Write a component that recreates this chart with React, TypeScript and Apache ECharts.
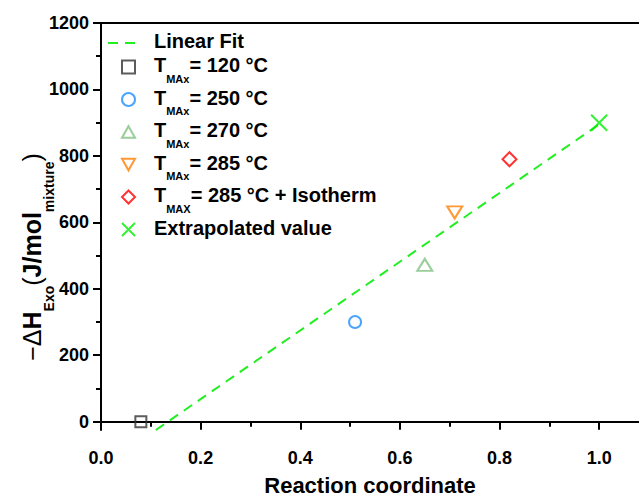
import React, { useEffect, useRef } from 'react';
import * as echarts from 'echarts';

// ---- data ----
const seriesNames = ['T120', 'T250', 'T270', 'T285', 'T285iso', 'Extrapolated value'];
const reactionCoord = [0.08, 0.51, 0.65, 0.71, 0.82, 1.0];
const deltaH = [0, 300, 472, 630, 790, 900];
const fitX = [0.11, 1.0];
const fitY = [-25, 895];
const xMajorTicks = [0, 0.2, 0.4, 0.6, 0.8, 1.0];
const xMinorTicks = [0.1, 0.3, 0.5, 0.7, 0.9];
const yMajorTicks = [0, 200, 400, 600, 800, 1000, 1200];
const yMinorTicks = [100, 300, 500, 700, 900, 1100];

const legendRich: Record<string, string> = {
  'Linear Fit': '{g|Linear Fit}',
  T120: '{f|T}{s|MAx}{b|= 120 °C}',
  T250: '{f|T}{s|MAx}{b|= 250 °C}',
  T270: '{f|T}{s|MAx}{b|= 270 °C}',
  T285: '{f|T}{s|MAx}{b|= 285 °C}',
  T285iso: '{f|T}{s|MAX}{b|= 285 °C + Isotherm}',
  'Extrapolated value': '{f|Extrapolated value}{s| }',
};
const yTitle = '{n|−Δ}{a|H}{s|Exo}{n|(}{a|J/mol}{s|mixture}{n|)}';

const markerStyles = [
  { symbol: 'rect', size: 11, color: '#333333' },
  { symbol: 'circle', size: 12, color: '#1e8fff' },
  { symbol: 'path://M5,0L10,9L0,9Z', size: [15, 12], color: '#80c080' },
  { symbol: 'path://M0,0L10,0L5,9Z', size: [15, 12], color: '#ff8000' },
  { symbol: 'diamond', size: 14, color: '#ff0000' },
  { symbol: 'path://M0,0L10,10M10,0L0,10', size: 16, color: '#00ee00' },
];

const FONT = '"Liberation Sans", Arial, Helvetica, sans-serif';

export default function App() {
  const ref = useRef<HTMLDivElement>(null);
  useEffect(() => {
    if (!ref.current) return;
    const chart = echarts.init(ref.current, null, { renderer: 'svg' });
    const base = { fontSize: 20, fontWeight: 'bold', fontFamily: FONT, color: '#000', lineHeight: 24, verticalAlign: 'top' };
    const legendTextRich = {
      b: { ...base },
      f: { ...base, padding: [0, 0, 0, 14] },
      g: { ...base, padding: [0, 0, 0, 13] },
      s: { fontSize: 11, fontWeight: 'bold', fontFamily: FONT, color: '#000', lineHeight: 11, verticalAlign: 'top', padding: [18, 0, 0, 0] },
    };
    const axisLineStyle = { color: '#000', width: 2 };
    const scatterSeries = seriesNames.map((name, i) => ({
      type: 'scatter',
      name,
      data: [[reactionCoord[i], deltaH[i]]],
      symbol: markerStyles[i].symbol,
      symbolSize: markerStyles[i].size,
      itemStyle: { color: 'rgba(0,0,0,0)', borderColor: markerStyles[i].color, borderWidth: 2 },
      z: 3,
    }));
    const option: any = {
      animation: false,
      backgroundColor: '#fff',
      textStyle: { fontFamily: FONT },
      grid: { left: 101, right: 0, top: 23, bottom: 67, containLabel: false },
      graphic: [
        {
          type: 'text',
          x: 34,
          y: 257,
          rotation: Math.PI / 2,
          style: {
            text: yTitle,
            align: 'center',
            verticalAlign: 'middle',
            rich: {
              n: { fontSize: 25, fontWeight: 'normal', fontFamily: FONT, fill: '#000', lineHeight: 29, verticalAlign: 'top' },
              a: { fontSize: 25, fontWeight: 'bold', fontFamily: FONT, fill: '#000', lineHeight: 29, verticalAlign: 'top' },
              s: { fontSize: 14, fontWeight: 'bold', fontFamily: FONT, fill: '#000', lineHeight: 14, verticalAlign: 'top', padding: [22, 0, 0, 0] },
            },
          },
        },
      ],
      legend: [
        {
          data: ['Linear Fit'],
          orient: 'vertical',
          left: 107,
          top: 31,
          padding: 0,
          itemWidth: 28,
          itemHeight: 12,
          itemStyle: { color: 'rgba(0,0,0,0)', borderWidth: 0, opacity: 0 },
          lineStyle: { color: '#22ee22', width: 2, type: [10, 7] },
          formatter: (n: string) => legendRich[n],
          textStyle: { rich: legendTextRich },
        },
        {
          data: seriesNames,
          orient: 'vertical',
          left: 121,
          top: 55,
          padding: 0,
          itemGap: 3.5,
          itemWidth: 13,
          itemHeight: 13,
          itemStyle: { borderWidth: 2 },
          formatter: (n: string) => legendRich[n],
          textStyle: { rich: legendTextRich },
        },
      ],
      xAxis: [
        {
          type: 'value',
          position: 'bottom',
          min: 0,
          max: 1.08,
          axisLine: { lineStyle: axisLineStyle },
          axisTick: { show: true, length: 8, lineStyle: axisLineStyle, customValues: xMajorTicks },
          axisLabel: {
            customValues: xMajorTicks,
            formatter: (v: number) => v.toFixed(1),
            fontSize: 18,
            fontWeight: 'bold',
            fontFamily: FONT,
            color: '#000',
            margin: 19,
          },
          splitLine: { show: false },
          name: 'Reaction coordinate',
          nameLocation: 'middle',
          nameGap: 44,
          nameTextStyle: { fontSize: 22, fontWeight: 'bold', fontFamily: FONT, color: '#000' },
        },
        {
          type: 'value',
          position: 'bottom',
          min: 0,
          max: 1.08,
          axisLine: { show: false },
          axisTick: { show: true, length: 5, lineStyle: axisLineStyle, customValues: xMinorTicks },
          axisLabel: { show: false },
          splitLine: { show: false },
        },
        {
          type: 'value',
          position: 'top',
          min: 0,
          max: 1.08,
          axisLine: { lineStyle: axisLineStyle },
          axisTick: { show: false },
          axisLabel: { show: false },
          splitLine: { show: false },
        },
      ],
      yAxis: [
        {
          type: 'value',
          position: 'left',
          min: -25,
          max: 1200,
          axisLine: { lineStyle: axisLineStyle },
          axisTick: { show: true, length: 8, lineStyle: axisLineStyle, customValues: yMajorTicks },
          axisLabel: {
            customValues: yMajorTicks,
            formatter: (v: number) => String(v),
            fontSize: 18,
            fontWeight: 'bold',
            fontFamily: FONT,
            color: '#000',
            margin: 12,
          },
          splitLine: { show: false },
        },
        {
          type: 'value',
          position: 'left',
          min: -25,
          max: 1200,
          axisLine: { show: false },
          axisTick: { show: true, length: 5, lineStyle: axisLineStyle, customValues: yMinorTicks },
          axisLabel: { show: false },
          splitLine: { show: false },
        },
      ],
      series: [
        {
          type: 'line',
          name: 'Linear Fit',
          data: fitX.map((x, i) => [x, fitY[i]]),
          symbol: 'none',
          showSymbol: false,
          lineStyle: { color: '#22ee22', width: 2, type: [10, 7] },
          itemStyle: { color: '#22ee22' },
          z: 2,
        },
        ...scatterSeries,
      ],
    };
    chart.setOption(option);
    return () => chart.dispose();
  }, []);
  return <div ref={ref} style={{ position: 'fixed', left: 0, top: 0, width: 639, height: 501 }} />;
}
